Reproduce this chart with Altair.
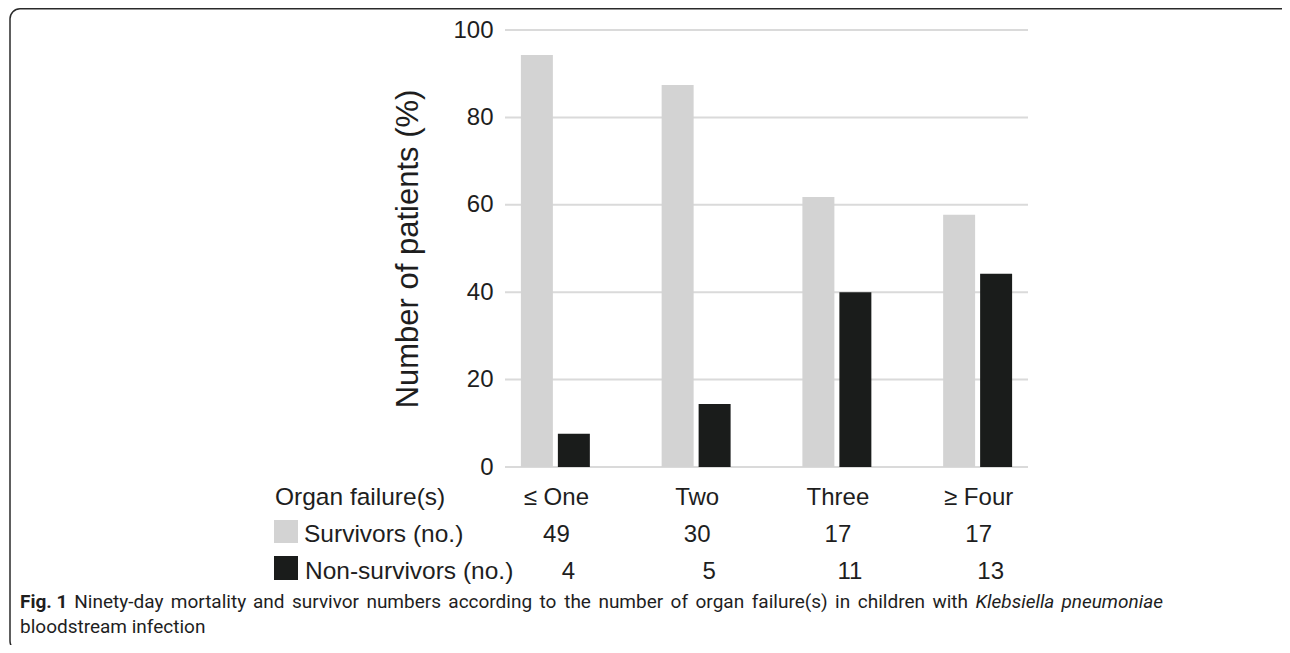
import altair as alt
import pandas as pd

# ---------------- data ----------------
categories = ["≤ One", "Two", "Three", "≥ Four"]
groups = ["Survivors", "Non-survivors"]
survivor_pct = [94.3, 87.4, 61.8, 57.7]
nonsurvivor_pct = [7.6, 14.4, 40.0, 44.2]
survivor_n = [49, 30, 17, 17]
nonsurvivor_n = [4, 5, 11, 13]
y_ticks = [0, 20, 40, 60, 80, 100]
row_labels = ["Organ failure(s)", "Survivors (no.)", "Non-survivors (no.)"]
caption_bold = "Fig. 1"
caption_regular = "Ninety-day mortality and survivor numbers according to the number of organ failure(s) in children with"
caption_italic = "Klebsiella pneumoniae"
caption_line2 = "bloodstream infection"
y_title = "Number of patients (%)"

# ---------------- styling / layout ----------------
colors = ["#d3d3d3", "#1a1c1b"]
FONT = "Liberation Sans"
CAP_FONT = "Roboto"
TXT = "#1e1e1e"
PLOT_L, PLOT_T, PLOT_W, PLOT_H = 485, 30, 563, 437


def px(x):
    return x - PLOT_L


def py(y):
    return y - PLOT_T


bars_df = pd.DataFrame({
    "cat": categories * 2,
    "group": [groups[0]] * len(categories) + [groups[1]] * len(categories),
    "pct": survivor_pct + nonsurvivor_pct,
})
table_df = pd.DataFrame({
    "cat": categories,
    "surv": [str(v) for v in survivor_n],
    "non": [str(v) for v in nonsurvivor_n],
})
grid_df = pd.DataFrame({"v": y_ticks})

xscale = alt.Scale(domain=categories, paddingInner=0.51, paddingOuter=0.255)
yscale = alt.Scale(domain=[0, 100], nice=False, zero=True)
yaxis = alt.Axis(values=y_ticks, title=y_title, grid=False, domain=False, ticks=False,
                 labelFontSize=24, labelFont=FONT, labelColor=TXT, labelPadding=12,
                 offset=-20, titleFont=FONT, titleFontSize=31, titleFontWeight="normal",
                 titleColor=TXT, titlePadding=28)

grid = alt.Chart(grid_df).mark_rule(color="#dadada", strokeWidth=2).encode(
    y=alt.Y("v:Q", scale=yscale, axis=yaxis, title=y_title),
    x=alt.value(px(505)),
    x2=alt.value(px(1028)),
)

bars = alt.Chart(bars_df).mark_bar().encode(
    x=alt.X("cat:N", scale=xscale, axis=None, sort=categories),
    xOffset=alt.XOffset("group:N", sort=groups,
                        scale=alt.Scale(domain=groups, paddingInner=0.135, paddingOuter=0)),
    y=alt.Y("pct:Q", scale=yscale, axis=yaxis, title=y_title),
    color=alt.Color("group:N", scale=alt.Scale(domain=groups, range=colors), legend=None),
)

cat_text = alt.Chart(table_df).mark_text(fontSize=24, font=FONT, color=TXT, baseline="alphabetic", dx=1).encode(
    x=alt.X("cat:N", scale=xscale, axis=None, sort=categories),
    y=alt.value(py(505)),
    text="cat:N",
)
surv_text = alt.Chart(table_df).mark_text(fontSize=24, font=FONT, color=TXT, baseline="alphabetic", dx=1).encode(
    x=alt.X("cat:N", scale=xscale, axis=None, sort=categories),
    y=alt.value(py(542)),
    text="surv:N",
)
non_text = alt.Chart(table_df).mark_text(fontSize=24, font=FONT, color=TXT, baseline="alphabetic", dx=13).encode(
    x=alt.X("cat:N", scale=xscale, axis=None, sort=categories),
    y=alt.value(py(579)),
    text="non:N",
)


def label(txt, x, y, font=FONT, size=24.5, weight="normal", style="normal", align="left"):
    return alt.Chart(pd.DataFrame({"t": [txt]})).mark_text(
        font=font, fontSize=size, fontWeight=weight, fontStyle=style, align=align,
        baseline="alphabetic", color=TXT,
    ).encode(text="t:N", x=alt.value(px(x)), y=alt.value(py(y)))


row1 = label(row_labels[0], 275, 505)
row2 = label(row_labels[1], 304, 542)
row3 = label(row_labels[2], 305, 579)

sq_surv = alt.Chart(pd.DataFrame({"g": [groups[0]]})).mark_rect().encode(
    x=alt.value(px(274)), x2=alt.value(px(298)), y=alt.value(py(520)), y2=alt.value(py(543)),
    color=alt.Color("g:N", scale=alt.Scale(domain=groups, range=colors), legend=None),
)
sq_non = alt.Chart(pd.DataFrame({"g": [groups[1]]})).mark_rect().encode(
    x=alt.value(px(274)), x2=alt.value(px(298)), y=alt.value(py(556)), y2=alt.value(py(580)),
    color=alt.Color("g:N", scale=alt.Scale(domain=groups, range=colors), legend=None),
)

# ---------------- caption (justified first line) ----------------
CAP_SIZE = 19
ROBOTO_W = {'N': 1424, 'a': 1087, 'b': 1122, 'c': 1046, 'd': 1126, 'e': 1058, 'f': 695,
            'g': 1122, 'h': 1101, 'i': 486, 'k': 1014, 'l': 486, 'm': 1753, 'n': 1104,
            'o': 1141, 'p': 1122, 'r': 677, 's': 1031, 't': 654, 'u': 1103, 'v': 968,
            'w': 1502, 'y': 946, '-': 553, '(': 684, ')': 696, 'K': 1264, ' ': 507}


def est(s, size):
    return sum(ROBOTO_W.get(c, 1100) for c in s) / 2048 * size


# calibrate on widths measured in a previous render at 17.5px
cal_reg = 787 / est(caption_regular, 17.5)
cal_it = 170 / est(caption_italic, 17.5)
bold_w = 43 * CAP_SIZE / 17.5

tokens = [(caption_bold, "bold", "normal", bold_w)]
tokens += [(w, "normal", "normal", est(w, CAP_SIZE) * cal_reg) for w in caption_regular.split()]
tokens += [(w, "normal", "italic", est(w, CAP_SIZE) * cal_it) for w in caption_italic.split()]
LINE_L, LINE_R = 20, 1163
gap = (LINE_R - LINE_L - sum(t[3] for t in tokens)) / (len(tokens) - 1)

caption_layers = []
xpos = LINE_L
for i, (w, wt, st, wd) in enumerate(tokens):
    if i == len(tokens) - 1:
        caption_layers.append(label(w, LINE_R, 608, font=CAP_FONT, size=CAP_SIZE, weight=wt,
                                    style=st, align="right"))
    else:
        caption_layers.append(label(w, xpos, 608, font=CAP_FONT, size=CAP_SIZE, weight=wt, style=st))
    xpos += wd + gap
caption_layers.append(label(caption_line2, 20, 633, font=CAP_FONT, size=CAP_SIZE))

frame = alt.Chart(pd.DataFrame({"f": [1]})).mark_rect(
    filled=False, stroke="#2a2a2a", strokeWidth=1.5, cornerRadius=10
).encode(
    x=alt.value(px(10)), x2=alt.value(px(1300)), y=alt.value(py(8.75)), y2=alt.value(py(651)),
)

chart = alt.layer(
    grid, bars, cat_text, surv_text, non_text, row1, row2, row3, sq_surv, sq_non,
    *caption_layers, frame,
).properties(
    width=PLOT_W, height=PLOT_H,
    autosize=alt.AutoSizeParams(type="none"),
    padding={"left": 477, "top": 22, "right": 234, "bottom": 178},
).configure(
    background="white",
    view=alt.ViewConfig(strokeWidth=0, stroke="transparent"),
)

chart.save("out.html", embed_options={"renderer": "svg", "actions": False})
